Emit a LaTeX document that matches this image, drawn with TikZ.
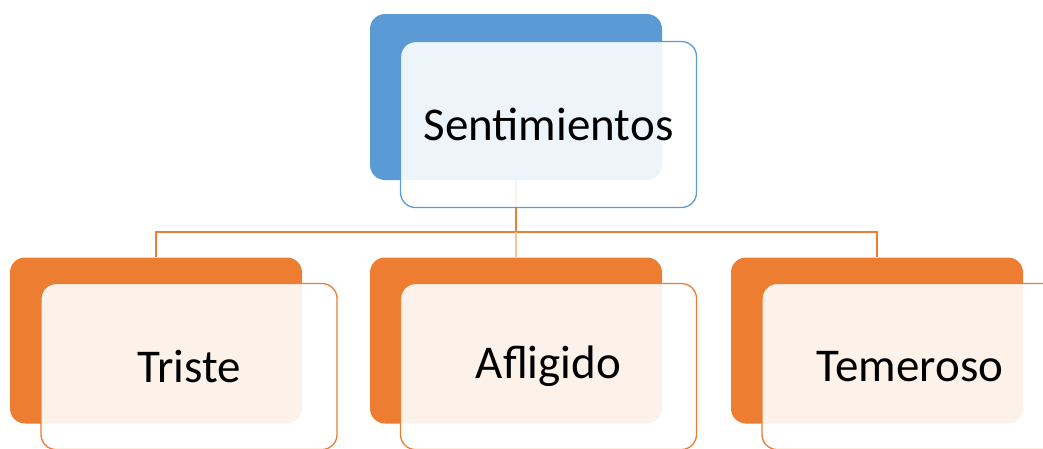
\documentclass[tikz,border=0pt]{standalone}
\usepackage{fontspec}
\setmainfont{Carlito}
\usepackage{xcolor}
\usetikzlibrary{positioning}
\definecolor{accblue}{HTML}{5B9BD5}
\definecolor{accorange}{HTML}{ED7D31}
\tikzset{
  back/.style={rectangle, rounded corners=15pt, minimum width=292pt, minimum height=166pt, inner sep=0pt},
  front/.style={rectangle, rounded corners=15pt, draw, line width=1.3pt, fill=white, fill opacity=0.9, text opacity=1,
    minimum width=296pt, minimum height=166pt, inner sep=0pt, font=\fontsize{47}{54}\selectfont},
  line/.style={accorange, line width=1.5pt}
}

\begin{document}
\begin{tikzpicture}[x=1pt, y=-1pt]
    \useasboundingbox (0,0) rectangle (1043,448);
    \clip (0,0) rectangle (1043,448);

    \node[back, fill=accblue] (sentback) at (516,97) {};
    \node[back, fill=accorange] (tristeback) at (156,340.5) {};
    \node[back, fill=accorange] (afligback) at (516,340.5) {};
    \node[back, fill=accorange] (temerback) at (877,340.5) {};

    \draw[line] (sentback.south) -- ++(0,52) coordinate (hub);
    \draw[line] (hub) -| (tristeback.north);
    \draw[line] (hub) -| (temerback.north);
    \draw[line, accorange!45] (hub) -- (afligback.north);

    \node[front, draw=accblue] (sent) at (548.5,124.5) {Sentimientos};
    \node[front, draw=accorange] (triste) at (189,366.5) {Triste};
    \node[front, draw=accorange] (aflig) at (548.5,366.5) {Afligido};
    \node[front, draw=accorange] (temer) at (910,366.5) {Temeroso};
\end{tikzpicture}
\end{document}
